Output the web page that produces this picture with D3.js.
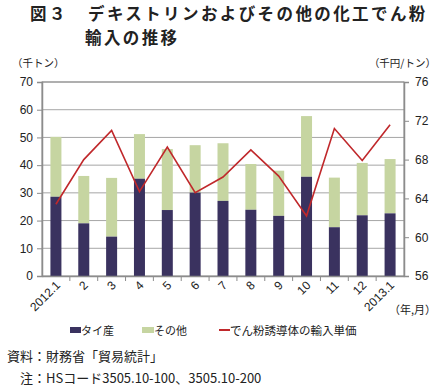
<!DOCTYPE html>
<html><head><meta charset="utf-8">
<script src="https://cdn.jsdelivr.net/npm/d3@7"></script>
<style>
body{margin:0;background:#fff;}
svg{display:block;font-family:"Noto Sans CJK JP","Noto Sans",sans-serif;}
</style></head>
<body><svg id="c" width="438" height="390"></svg>
<script>
const categories = ["2012.1","2","3","4","5","6","7","8","9","10","11","12","2013.1"];
const thai = [28.6,19.0,14.2,35.1,23.8,30.1,27.1,23.9,21.7,35.8,17.6,21.9,22.6];
const other = [21.6,17.1,21.2,16.1,22.0,17.1,20.8,16.5,16.3,21.9,17.9,18.9,19.6];
const unitPrice = [63.4,68.0,71.0,64.7,69.3,64.6,66.2,69.0,66.3,62.2,71.2,67.9,71.6];
const leftTicks = [0,10,20,30,40,50,60,70];
const rightTicks = [56,60,64,68,72,76];

const svg = d3.select("#c");
const L = 42, R = 404, T = 82, B = 276;
const xb = d3.scaleBand().domain(categories).range([L, R]);
const y = d3.scaleLinear().domain([0,70]).range([B, T]);
const y2 = d3.scaleLinear().domain([56,76]).range([B, T]);

// gridlines
svg.append("g").selectAll("line").data(leftTicks.slice(1)).join("line")
  .attr("x1", L).attr("x2", R).attr("y1", d=>y(d)).attr("y2", d=>y(d))
  .attr("stroke", "#a6a6a6").attr("stroke-width", 1);
// frame
svg.append("rect").attr("x", L).attr("y", T).attr("width", R-L).attr("height", B-T)
  .attr("fill","none").attr("stroke","#8c8c8c").attr("stroke-width",1);

// bars
const navy = "#3a325f", green = "#c6d5a1", red = "#c0282b";
const bw = 11;
svg.append("g").selectAll("rect").data(categories).join("rect")
  .attr("x", (d)=> xb(d)+xb.bandwidth()/2-bw/2).attr("width", bw)
  .attr("y", (d,i)=>y(thai[i]+other[i])).attr("height",(d,i)=>y(thai[i])-y(thai[i]+other[i]))
  .attr("fill", green);
svg.append("g").selectAll("rect").data(categories).join("rect")
  .attr("x", (d)=> xb(d)+xb.bandwidth()/2-bw/2).attr("width", bw)
  .attr("y", (d,i)=>y(thai[i])).attr("height",(d,i)=>B-y(thai[i]))
  .attr("fill", navy);

// line
const line = d3.line().x((d,i)=>xb(categories[i])+xb.bandwidth()/2).y(d=>y2(d));
svg.append("path").datum(unitPrice).attr("d", line).attr("fill","none")
  .attr("stroke", red).attr("stroke-width", 1.6);

// axes
const axL = d3.axisLeft(y).tickValues(leftTicks).tickSize(5).tickPadding(4);
const gL = svg.append("g").attr("transform",`translate(${L},0)`).call(axL);
const axR = d3.axisRight(y2).tickValues(rightTicks).tickSize(5).tickPadding(6);
const gR = svg.append("g").attr("transform",`translate(${R},0)`).call(axR);
const axB = d3.axisBottom(xb).tickSize(0).tickFormat("");
const gB = svg.append("g").attr("transform",`translate(0,${B})`).call(axB);
[gL,gR,gB].forEach(g=>{
  g.select(".domain").attr("stroke","#8c8c8c").attr("stroke-width",1.5);
  g.selectAll(".tick line").attr("stroke","#8c8c8c");
  g.selectAll("text").attr("font-size",12).attr("fill","#222").attr("font-family","Liberation Sans, Arial, sans-serif");
});
// x tick marks between categories
svg.append("g").selectAll("line").data(categories.slice(1)).join("line")
  .attr("x1", d=>xb(d)).attr("x2", d=>xb(d)).attr("y1", B).attr("y2", B+5)
  .attr("stroke","#8c8c8c");
// x labels rotated
svg.append("g").selectAll("text").data(categories).join("text")
  .attr("transform", d=>`translate(${xb(d)+xb.bandwidth()/2+5},${B+10}) rotate(-45)`)
  .attr("text-anchor","end").attr("font-size",12).attr("fill","#222")
  .attr("font-family","Liberation Sans, Arial, sans-serif")
  .text(d=>d);

// unit labels
svg.append("text").attr("x",12).attr("y",67).attr("font-size",10.5).attr("fill","#222").text("（千トン）");
svg.append("text").attr("x",436).attr("y",67).attr("text-anchor","end").attr("font-size",10.5).attr("fill","#222").text("（千円/トン）");
svg.append("text").attr("x",436).attr("y",314).attr("text-anchor","end").attr("font-size",11).attr("fill","#222").text("（年,月）");

// title
svg.append("text").attr("x",30).attr("y",20).attr("font-size",16.5).attr("letter-spacing",2.4).attr("font-weight","bold").attr("fill","#222").text("図３");
svg.append("text").attr("x",88).attr("y",20).attr("font-size",16.5).attr("letter-spacing",2.4).attr("font-weight","bold").attr("fill","#222").text("デキストリンおよびその他の化工でん粉");
svg.append("text").attr("x",85).attr("y",44).attr("font-size",16.5).attr("letter-spacing",2.4).attr("font-weight","bold").attr("fill","#222").text("輸入の推移");

// legend
const lg = svg.append("g").attr("transform","translate(0,335)");
lg.append("rect").attr("x",70).attr("y",-8).attr("width",11).attr("height",6).attr("fill",navy);
lg.append("text").attr("x",81).attr("y",0).attr("font-size",11).attr("fill","#222").text("タイ産");
lg.append("rect").attr("x",142).attr("y",-8).attr("width",12).attr("height",6).attr("fill",green);
lg.append("text").attr("x",154).attr("y",0).attr("font-size",11).attr("fill","#222").text("その他");
lg.append("line").attr("x1",219).attr("x2",230).attr("y1",-5).attr("y2",-5).attr("stroke",red).attr("stroke-width",2);
lg.append("text").attr("x",230).attr("y",0).attr("font-size",11.5).attr("fill","#222").text("でん粉誘導体の輸入単価");

// source
svg.append("text").attr("x",7).attr("y",361).attr("font-size",13).attr("fill","#222").text("資料：財務省「貿易統計」");
svg.append("text").attr("x",20).attr("y",383).attr("font-size",13).attr("fill","#222").text("注：HSコード3505.10-100、3505.10-200");
</script></body></html>
